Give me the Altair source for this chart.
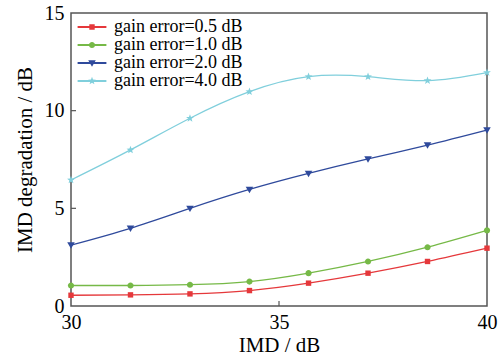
import math
import altair as alt
import pandas as pd

# ---- data ----
imd = [30, 31.43, 32.86, 34.29, 35.71, 37.14, 38.57, 40]
series = ["gain error=0.5 dB", "gain error=1.0 dB", "gain error=2.0 dB", "gain error=4.0 dB"]
deg_05 = [0.55, 0.57, 0.62, 0.79, 1.17, 1.68, 2.28, 2.96]
deg_10 = [1.05, 1.05, 1.09, 1.25, 1.68, 2.28, 3.01, 3.87]
deg_20 = [3.12, 3.98, 5.00, 5.97, 6.79, 7.53, 8.24, 9.01]
deg_40 = [6.45, 7.99, 9.61, 10.97, 11.74, 11.74, 11.54, 11.95]
x_ticks = [30, 35, 40]
y_ticks = [0, 5, 10, 15]

colors = ["#e5383b", "#76b947", "#2f4a9c", "#80cfdc"]
FONT = "Liberation Serif"

rows = []
for name, vals in zip(series, [deg_05, deg_10, deg_20, deg_40]):
    for x, y in zip(imd, vals):
        rows.append({"imd": x, "deg": y, "series": name})
df = pd.DataFrame(rows)

# ---- marker shapes (unit coords, scale = sqrt(size)/2) ----
def star(ro, ri):
    pts = []
    for k in range(10):
        a = -math.pi / 2 + k * math.pi / 5
        r = ro if k % 2 == 0 else ri
        pts.append((r * math.cos(a), r * math.sin(a)))
    return "M" + "L".join(f"{x:.3f},{y:.3f}" for x, y in pts) + "Z"

m_square = "M-0.3,-0.3H0.3V0.3H-0.3Z"
m_circle = "M-0.34,0A0.34,0.34 0 1,1 0.34,0A0.34,0.34 0 1,1 -0.34,0Z"
m_tri = "M-0.42,-0.3L0.42,-0.3L0,0.42Z"
m_star = star(0.46, 0.19)
markers = [m_square, m_circle, m_tri, m_star]
line_seg = "M-1.6,-0.1H1.6V0.1H-1.6Z"
legend_syms = [line_seg + m for m in markers]

W, H = 416, 293
SZ = 324

xs = alt.Scale(domain=[30, 40], nice=False, zero=False)
ys = alt.Scale(domain=[0, 15], nice=False)

common = dict(labelFont=FONT, titleFont=FONT, labelFontSize=20, titleFontSize=21,
              labelColor="#000", titleColor="#000", titleFontWeight="normal",
              ticks=False, grid=False, domain=False)
x_axis = alt.Axis(values=x_ticks, title="IMD / dB", labelPadding=6, titlePadding=2,
                  labelFlush=False, **common)
y_axis = alt.Axis(values=y_ticks, title="IMD degradation / dB", labelPadding=7,
                  titlePadding=9, **common)
X = alt.X("imd:Q", scale=xs, axis=x_axis)
Y = alt.Y("deg:Q", scale=ys, axis=y_axis)

lines = alt.Chart(df).mark_line(interpolate="natural", strokeWidth=1.3).encode(
    x=X, y=Y,
    color=alt.Color("series:N", scale=alt.Scale(domain=series, range=colors), legend=None),
    detail="series:N",
)

points = alt.Chart(df).mark_point(filled=True, size=SZ, opacity=1).encode(
    x=X, y=Y,
    color=alt.Color("series:N", scale=alt.Scale(domain=series, range=colors), legend=None),
    shape=alt.Shape("series:N", scale=alt.Scale(domain=series, range=markers), legend=None),
)

leg = alt.Legend(orient="none", legendX=12, legendY=5, title=None, labelFont=FONT,
                 labelFontSize=18, labelColor="#000", symbolSize=SZ, labelOffset=13,
                 rowPadding=0, padding=0, symbolStrokeWidth=0)

legend_layer = alt.Chart(df).transform_filter("false").mark_point(filled=True, size=SZ, opacity=1).encode(
    x=X, y=Y,
    color=alt.Color("series:N", scale=alt.Scale(domain=series, range=colors), legend=leg),
    shape=alt.Shape("series:N", scale=alt.Scale(domain=series, range=legend_syms), legend=leg),
)

ytick_df = pd.DataFrame({"deg": y_ticks[1:-1]})
xtick_df = pd.DataFrame({"imd": x_ticks[1:-1]})
ytick_layer = alt.Chart(ytick_df).mark_rule(color="#555", strokeWidth=1.2).encode(
    y=Y, x=alt.value(0), x2=alt.value(5))
xtick_layer = alt.Chart(xtick_df).mark_rule(color="#555", strokeWidth=1.2).encode(
    x=X, y=alt.value(H), y2=alt.value(H - 5))

chart = alt.layer(lines, points, legend_layer, ytick_layer, xtick_layer).resolve_scale(
    color="independent", shape="independent"
).properties(
    width=W, height=H,
    autosize=alt.AutoSizeParams(type="none"),
    padding={"left": 71, "top": 13, "right": 504 - 71 - W, "bottom": 360 - 13 - H},
    background="white",
).configure(
    font=FONT
).configure_view(
    stroke="#555", strokeWidth=1.5
)

chart.save("out.html", embed_options={"renderer": "svg", "actions": False})
